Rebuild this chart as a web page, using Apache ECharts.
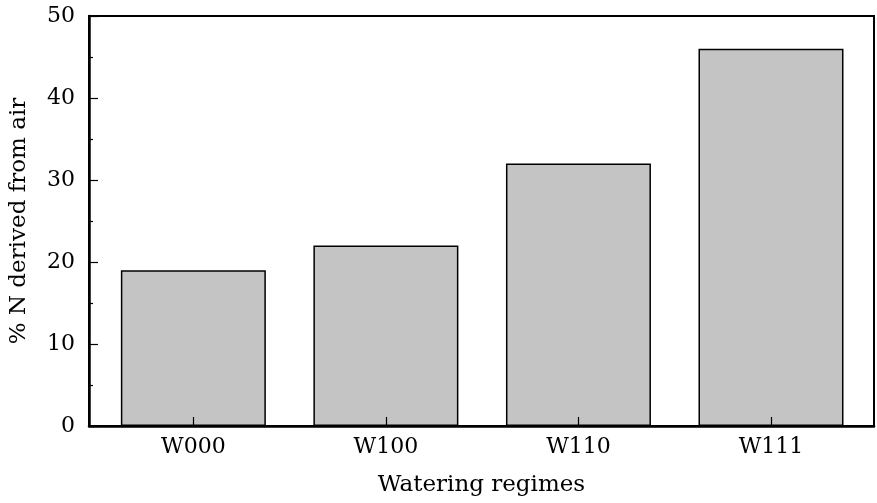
<!DOCTYPE html>
<html>
<head>
<meta charset="utf-8">
<script src="https://cdn.jsdelivr.net/npm/echarts@6/dist/echarts.min.js"></script>
<style>html,body{margin:0;padding:0;background:#fff;}#c{width:877px;height:503px;}</style>
</head>
<body>
<div id="c"></div>
<script>
const categories = ['W000', 'W100', 'W110', 'W111'];
const ndfaValues = [19, 22, 32, 46];
const yTicks = [0, 10, 20, 30, 40, 50];

const font = 'DejaVu Serif';
const chart = echarts.init(document.getElementById('c'), null, {renderer: 'canvas'});
const positions = categories.map((_, i) => i);
chart.setOption({
  animation: false,
  backgroundColor: '#fff',
  grid: {left: 88, right: 3, top: 16, bottom: 77, show: true, borderColor: '#000', borderWidth: 2, backgroundColor: 'transparent'},
  xAxis: {
    type: 'value', min: -0.542, max: 3.535, z: 5,
    name: 'Watering regimes', nameLocation: 'middle', nameGap: 48,
    nameTextStyle: {fontFamily: font, fontSize: 23, color: '#000'},
    axisLine: {show: true, onZero: false, lineStyle: {color: '#000', width: 2.5}},
    axisTick: {show: true, inside: true, length: 9, customValues: positions, lineStyle: {color: '#000', width: 1.2}},
    axisLabel: {customValues: positions, formatter: v => categories[Math.round(v)], fontFamily: font, fontSize: 22, color: '#000', margin: 10},
    splitLine: {show: false}
  },
  yAxis: {
    type: 'value', min: yTicks[0], max: yTicks[yTicks.length - 1], interval: 10, z: 5,
    name: '% N derived from air', nameLocation: 'middle', nameGap: 58,
    nameTextStyle: {fontFamily: font, fontSize: 23, color: '#000'},
    axisLine: {show: true, onZero: false, lineStyle: {color: '#000', width: 2.5}},
    axisTick: {show: true, inside: true, length: 9, lineStyle: {color: '#000', width: 1.2}},
    minorTick: {show: true, splitNumber: 2, length: 4, lineStyle: {color: '#000', width: 1.2}},
    axisLabel: {fontFamily: font, fontSize: 22, color: '#000', margin: 14},
    splitLine: {show: false}
  },
  series: [{
    type: 'bar',
    data: categories.map((c, i) => [i, ndfaValues[i]]),
    barWidth: 145,
    itemStyle: {color: '#c4c4c4', borderColor: '#000', borderWidth: 1.5}
  }]
});
</script>
</body>
</html>
